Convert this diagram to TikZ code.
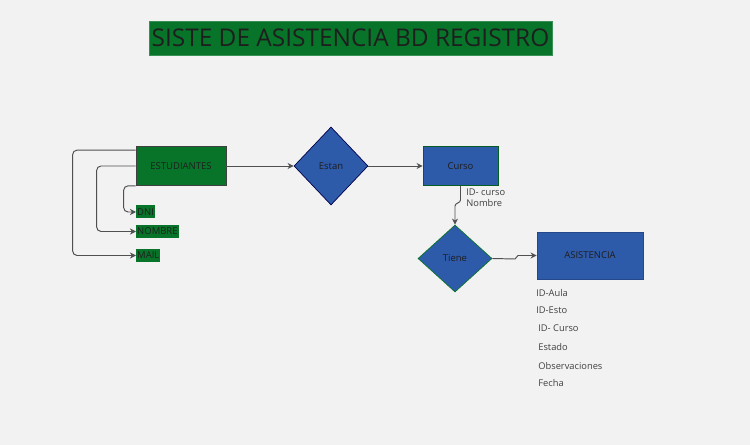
\documentclass[tikz,border=0pt]{standalone}
\usepackage{fontspec}
\setmainfont{Open Sans}
\usetikzlibrary{shapes.geometric, arrows.meta, positioning, calc}
\usepackage{xcolor}
\definecolor{bdgreen}{RGB}{8,116,42}
\definecolor{bdblue}{RGB}{46,90,170}
\definecolor{bdline}{RGB}{80,80,80}
\definecolor{bdtext}{RGB}{30,30,30}
\definecolor{bdback}{RGB}{242,242,242}

\begin{document}
\begin{tikzpicture}[
    x=0.02cm, y=-0.02cm,
    title/.style={rectangle, fill=bdgreen, draw=bdgreen!80!white, minimum width=8.06cm, minimum height=0.68cm, inner sep=0pt, text=bdtext, font=\fontsize{13.9}{16}\selectfont},
    entity/.style={draw=black!75, rectangle, fill=bdgreen, minimum width=1.8cm, minimum height=0.78cm, text=bdtext, font=\fontsize{5.4}{6.5}\selectfont},
    table/.style={draw=bdgreen!80!black, rectangle, fill=bdblue, text=bdtext, font=\fontsize{5.4}{6.5}\selectfont},
    relation/.style={draw, diamond, fill=bdblue, minimum width=1.48cm, inner sep=0pt, text=bdtext, font=\fontsize{5.4}{6.5}\selectfont},
    attrib/.style={rectangle, fill=bdgreen, inner sep=0.5pt, minimum height=0.26cm, text=bdtext, font=\fontsize{5.4}{6.5}\selectfont},
    field/.style={anchor=west, inner sep=0pt, text=bdtext!85, font=\fontsize{5.3}{6.5}\selectfont},
    arrow/.style={draw=bdline, line width=0.55pt, -{Stealth[length=3.5pt, width=3.5pt]}},
    link/.style={arrow, rounded corners=2.5pt}
]
\fill[bdback] (0,0) rectangle (750,445);
\useasboundingbox (0,0) rectangle (750,445);

\node[title] (tit) at (350.5,38) {SISTE DE ASISTENCIA BD REGISTRO};

\node[entity] (est) at (181,166) {ESTUDIANTES};
\node[relation, draw=black!70!blue, minimum height=1.56cm] (estan) at (331,166) {Estan};
\node[table, minimum width=1.5cm, minimum height=0.78cm] (curso) at (460.5,166) {Curso};
\node[relation, draw=bdgreen, minimum height=1.34cm] (tiene) at (455,258.5) {Tiene};
\node[table, draw=bdblue!80!black, minimum width=2.12cm, minimum height=0.94cm] (asis) at (590,255.5) {ASISTENCIA};

\node[attrib, anchor=west] (dni) at (136,212) {DNI};
\node[attrib, anchor=west] (nombre) at (136,231.5) {NOMBRE};
\node[attrib, anchor=west] (mail) at (136,255.5) {MAIL};

\node[field] (cid) at (466,192) {ID- curso};
\node[field, below=0.07cm of cid.south west, anchor=north west] (cnom) {Nombre};

\node[field] (aula) at (536,293) {ID-Aula};
\node[field] (esto) at (536,310) {ID-Esto};
\node[field] (acur) at (538,328) {ID- Curso};
\node[field] (estado) at (538,347) {Estado};
\node[field] (obs) at (538,366.5) {Observaciones};
\node[field] (fecha) at (538,383.5) {Fecha};

\coordinate (jogA) at (460.5,200);
\coordinate (jogB) at (455,206);
\coordinate (jogC) at (515,259);
\coordinate (jogD) at (518,255.5);

\draw[arrow] (est) -- (estan);
\draw[arrow] (estan) -- (curso);
\draw[arrow] (curso.south) -- (jogA) to[out=-90, in=90] (jogB) -- (tiene.north);
\draw[arrow] (tiene.east) -- (jogC) to[out=0, in=180] (jogD) -- (asis.west);
\draw[link] ([yshift=-0.08cm]est.north west) -- ++(-63,0) |- (mail.west);
\draw[link] (est.west) -- ++(-39,0) |- (nombre.west);
\draw[link] (est.south west) -- ++(-12,0) |- (dni.west);

\end{tikzpicture}
\end{document}
